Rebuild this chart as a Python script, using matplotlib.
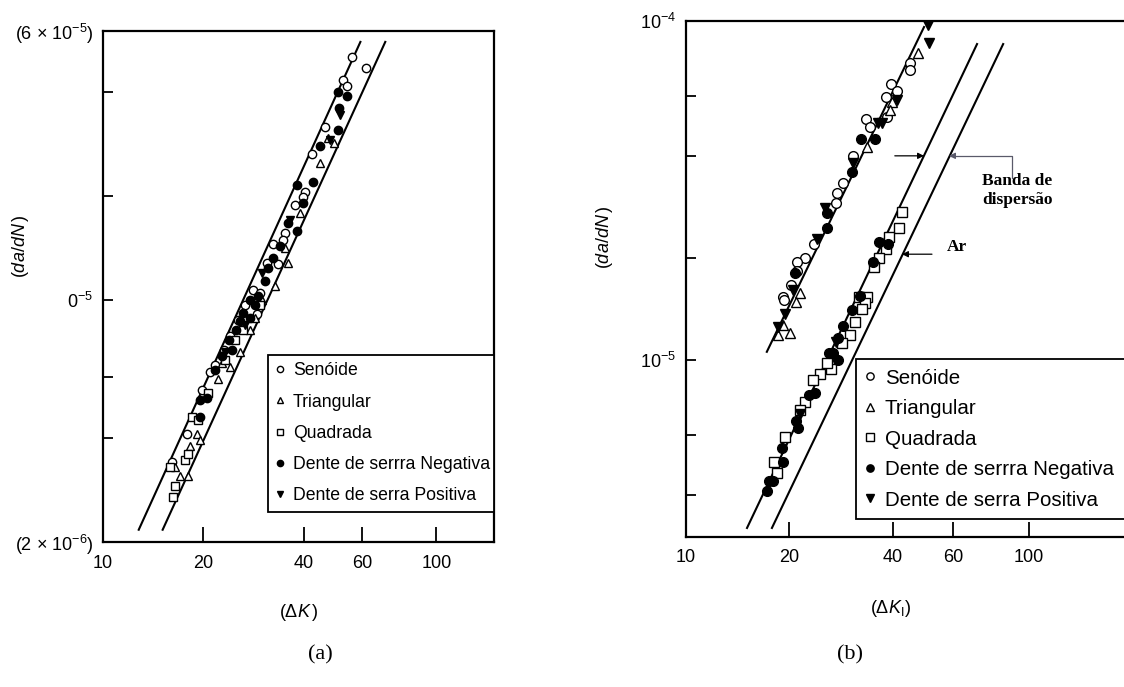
import matplotlib
matplotlib.use("Agg")
import matplotlib.pyplot as plt
from matplotlib.ticker import FixedLocator, NullLocator

plt.rcParams['font.family'] = ['Liberation Sans', 'DejaVu Sans']
plt.rcParams['mathtext.fontset'] = 'custom'
plt.rcParams['mathtext.rm'] = 'Liberation Sans'
plt.rcParams['mathtext.it'] = 'Liberation Sans:italic'
plt.rcParams['mathtext.bf'] = 'Liberation Sans:bold'

# ---------------- dados (a) ----------------
sen_a_K = [56, 61.5, 52.5, 54, 46.5, 42.5, 40.5, 39.8, 37.7, 35.2, 34.7, 32.3, 31.0,
           33.5, 28.2, 29.6, 26.7, 25.4, 24.1, 23.1, 21.7, 21.0, 17.9, 16.1, 19.8, 29.0]
sen_a_v = [5.05e-5, 4.7e-5, 4.33e-5, 4.15e-5, 3.17e-5, 2.65e-5, 2.05e-5, 1.99e-5, 1.89e-5,
           1.56e-5, 1.49e-5, 1.45e-5, 1.28e-5, 1.27e-5, 1.07e-5, 1.05e-5, 9.7e-6, 8.77e-6,
           7.9e-6, 7.2e-6, 6.5e-6, 6.2e-6, 4.1e-6, 3.4e-6, 5.5e-6, 9.1e-6]

tri_a_K = [47.3, 49.2, 44.9, 39.0, 35.8, 35.2, 32.8, 30.0, 28.5, 27.6, 25.8, 24.1,
           19.1, 19.6, 18.3, 18.0, 17.0, 16.4, 22.1, 22.8]
tri_a_v = [2.95e-5, 2.85e-5, 2.5e-5, 1.79e-5, 1.28e-5, 1.42e-5, 1.10e-5, 1.0e-5, 8.9e-6,
           8.2e-6, 7.1e-6, 6.4e-6, 4.1e-6, 3.95e-6, 3.8e-6, 3.1e-6, 3.1e-6, 3.3e-6,
           5.9e-6, 6.6e-6]

sq_a_K = [18.5, 19.3, 17.6, 18.0, 16.4, 16.2, 15.9, 20.7, 23.2, 26.3, 29.6, 24.9]
sq_a_v = [4.6e-6, 4.5e-6, 3.45e-6, 3.6e-6, 2.9e-6, 2.7e-6, 3.3e-6, 5.4e-6, 6.7e-6,
          8.2e-6, 9.7e-6, 7.67e-6]

neg_a_K = [50.8, 54.0, 51.2, 50.8, 44.8, 38.2, 42.7, 39.8, 35.8, 38.2, 34.0, 32.3, 30.6,
           29.2, 27.6, 26.3, 27.6, 25.0, 23.8, 24.4, 22.8, 21.7, 19.6, 20.5, 19.6, 31.3,
           25.8, 28.5]
neg_a_v = [4.0e-5, 3.9e-5, 3.6e-5, 3.1e-5, 2.8e-5, 2.15e-5, 2.2e-5, 1.91e-5, 1.67e-5,
           1.58e-5, 1.43e-5, 1.32e-5, 1.14e-5, 1.03e-5, 1.0e-5, 9.2e-6, 8.9e-6, 8.2e-6,
           7.67e-6, 7.2e-6, 6.9e-6, 6.3e-6, 5.14e-6, 5.2e-6, 4.6e-6, 1.24e-5, 8.7e-6, 9.7e-6]

pos_a_K = [51.5, 48.0, 36.4, 30.0, 26.7, 23.2]
pos_a_v = [3.44e-5, 2.9e-5, 1.70e-5, 1.2e-5, 8.5e-6, 7.1e-6]

# linhas da banda (a)
band_a1_K = [12.8, 59.2]
band_a2_K = [15.1, 70.3]
band_a_v = [2.17e-6, 5.58e-5]

# ---------------- dados (b) ----------------
sen_b_K = [45.0, 45.0, 39.6, 41.2, 38.2, 38.5, 33.5, 34.4, 30.7, 28.6, 27.5, 27.3, 23.6,
           22.2, 21.1, 21.1, 20.2, 19.2, 19.3]
sen_b_v = [7.5e-5, 7.17e-5, 6.5e-5, 6.2e-5, 5.96e-5, 5.2e-5, 5.15e-5, 4.87e-5, 4.0e-5,
           3.33e-5, 3.1e-5, 2.9e-5, 2.2e-5, 2.0e-5, 1.94e-5, 1.83e-5, 1.66e-5, 1.53e-5, 1.50e-5]

tri_b_K = [47.5, 39.9, 39.3, 33.7, 21.5, 20.9, 19.2, 20.1, 18.6]
tri_b_v = [8.05e-5, 5.77e-5, 5.46e-5, 4.25e-5, 1.57e-5, 1.48e-5, 1.27e-5, 1.2e-5, 1.18e-5]

sq_b_K = [42.6, 41.7, 39.0, 38.3, 36.6, 35.3, 33.7, 31.9, 33.2, 32.6, 31.1, 30.1, 28.5,
          26.5, 25.8, 24.6, 23.4, 22.2, 21.5, 19.4, 18.1, 18.4]
sq_b_v = [2.74e-5, 2.45e-5, 2.3e-5, 2.13e-5, 2.0e-5, 1.88e-5, 1.53e-5, 1.53e-5, 1.47e-5,
          1.41e-5, 1.29e-5, 1.18e-5, 1.12e-5, 9.4e-6, 9.8e-6, 9.1e-6, 8.7e-6, 7.5e-6,
          7.1e-6, 5.9e-6, 5.0e-6, 4.65e-6]

neg_b_K = [32.4, 35.5, 30.5, 25.8, 25.8, 20.8, 36.6, 38.7, 35.1, 32.2, 30.5, 28.6, 27.7,
           26.8, 27.7, 26.1, 23.8, 22.8, 20.9, 21.2, 19.0, 19.2, 17.9, 17.4, 17.2]
neg_b_v = [4.5e-5, 4.48e-5, 3.58e-5, 2.72e-5, 2.45e-5, 1.81e-5, 2.22e-5, 2.2e-5, 1.95e-5,
           1.54e-5, 1.40e-5, 1.26e-5, 1.16e-5, 1.05e-5, 1.0e-5, 1.05e-5, 8.0e-6, 7.9e-6,
           6.6e-6, 6.3e-6, 5.5e-6, 5.0e-6, 4.4e-6, 4.4e-6, 4.1e-6]

pos_b_K = [50.7, 51.1, 41.2, 36.2, 37.3, 30.7, 25.4, 24.1, 20.5, 19.4, 18.6, 21.5, 27.3]
pos_b_v = [9.7e-5, 8.6e-5, 5.85e-5, 5.0e-5, 5.0e-5, 3.81e-5, 2.8e-5, 2.28e-5, 1.61e-5,
           1.37e-5, 1.25e-5, 6.9e-6, 1.13e-5]

# linhas (b): ajuste dos dados e banda de dispersao em ar
line_b_K = [17.2, 49.4]
line_b_v = [1.056e-5, 9.6e-5]
band_b1_K = [15.06, 70.5]
band_b2_K = [17.8, 84.0]
band_b_v = [3.19e-6, 8.55e-5]

labels = ['Senóide', 'Triangular', 'Quadrada', 'Dente de serrra Negativa', 'Dente de serra Positiva']
xticks = [10, 20, 40, 60, 100]
xticklabels = ['10', '20', '40', '60', '100']


def draw_points(ax, ms, series):
    styles = [dict(marker='o', mfc='white'), dict(marker='^', mfc='white'),
              dict(marker='s', mfc='white'), dict(marker='o', mfc='black'),
              dict(marker='v', mfc='black')]
    for (K, v), st, lab in zip(series, styles, labels):
        ax.plot(K, v, ls='none', mec='black', mew=1.0, ms=ms, label=lab, **st)


def style_axes(ax, xlim, ylim, yticks, yticklabels):
    ax.set_xscale('log')
    ax.set_yscale('log')
    ax.set_xlim(*xlim)
    ax.set_ylim(*ylim)
    ax.xaxis.set_major_locator(FixedLocator(xticks))
    ax.xaxis.set_minor_locator(NullLocator())
    ax.set_xticklabels(xticklabels)
    ax.yaxis.set_major_locator(FixedLocator(yticks))
    ax.yaxis.set_minor_locator(NullLocator())
    ax.set_yticklabels(yticklabels)
    ax.tick_params(axis='x', direction='in', length=11, width=1.3, pad=9, labelsize=13)
    ax.tick_params(axis='y', direction='in', length=7, width=1.3, pad=7, labelsize=13)
    for s in ax.spines.values():
        s.set_linewidth(1.6)


def add_legend(ax, bbox, fs, spacing):
    leg = ax.legend(loc='lower left', bbox_to_anchor=bbox, mode='expand', borderaxespad=0,
                    fancybox=False, edgecolor='black', framealpha=1, handlelength=0.5,
                    handletextpad=0.45, labelspacing=spacing, borderpad=0.45,
                    markerscale=0.75, fontsize=fs)
    leg.get_frame().set_linewidth(1.3)
    return leg


fig = plt.figure(figsize=(11.24, 6.87), dpi=100)
W, H = 1124, 687
ax1 = fig.add_axes([103 / W, 1 - 542 / H, (494 - 103) / W, (542 - 31) / H])
ax2 = fig.add_axes([686 / W, 1 - 537 / H, (1124 - 686) / W, (537 - 21) / H])

# ---- (a) ----
ax1.plot(band_a1_K, band_a_v, color='black', lw=1.5)
ax1.plot(band_a2_K, band_a_v, color='black', lw=1.5)
draw_points(ax1, 6, [(sen_a_K, sen_a_v), (tri_a_K, tri_a_v), (sq_a_K, sq_a_v),
                     (neg_a_K, neg_a_v), (pos_a_K, pos_a_v)])
style_axes(ax1, (10, 149), (2e-6, 6e-5),
           [2e-6, 4e-6, 6e-6, 1e-5, 2e-5, 4e-5, 6e-5],
           ['(2 × 10$^{-6}$)', '', '', '0$^{-5}$', '', '', '(6 × 10$^{-5}$)'])
ax1.set_xlabel(r'$(\Delta \mathit{K}\,)$', fontsize=13)
ax1.xaxis.set_label_coords(0.5, -0.117)
ax1.set_ylabel(r'$(\mathit{da/dN}\,)$', fontsize=13)
ax1.yaxis.set_label_coords(-0.183, 0.579)
add_legend(ax1, (0.422, 0.059, 0.578, 0.3), 12.7, 0.8)

# ---- (b) ----
ax2.plot(line_b_K, line_b_v, color='black', lw=1.5)
ax2.plot(band_b1_K, band_b_v, color='black', lw=1.5)
ax2.plot(band_b2_K, band_b_v, color='black', lw=1.5)
draw_points(ax2, 7, [(sen_b_K, sen_b_v), (tri_b_K, tri_b_v), (sq_b_K, sq_b_v),
                     (neg_b_K, neg_b_v), (pos_b_K, pos_b_v)])
style_axes(ax2, (10, 189), (3e-6, 1e-4),
           [4e-6, 6e-6, 1e-5, 2e-5, 4e-5, 6e-5, 1e-4],
           ['', '', '10$^{-5}$', '', '', '', '10$^{-4}$'])
ax2.spines['right'].set_visible(False)
ax2.set_xlabel(r'$(\Delta \mathit{K}_\mathrm{I})$', fontsize=13)
ax2.xaxis.set_label_coords(0.466, -0.118)
ax2.set_ylabel(r'$(\mathit{da/dN}\,)$', fontsize=13)
ax2.yaxis.set_label_coords(-0.163, 0.581)
add_legend(ax2, (0.388, 0.035, 0.66, 0.3), 14.8, 0.56)

# anotacoes
ax2.annotate('', xy=(49.4, 4.0e-5), xytext=(40.6, 4.0e-5),
             arrowprops=dict(arrowstyle='-|>', color='black', lw=0.9, mutation_scale=9,
                             shrinkA=0, shrinkB=0))
ax2.annotate('', xy=(58.4, 4.0e-5), xytext=(89.0, 3.45e-5),
             arrowprops=dict(arrowstyle='-|>', color='#5a5a6a', lw=0.9, mutation_scale=9,
                             shrinkA=0, shrinkB=0,
                             connectionstyle='angle,angleA=90,angleB=0,rad=0'))
ax2.text(0.676, 0.705, 'Banda de\ndispersão', transform=ax2.transAxes, ha='left', va='top',
         multialignment='left', family='Liberation Serif', fontweight='bold',
         fontsize=12.5, linespacing=1.25)
ax2.annotate('', xy=(42.6, 2.05e-5), xytext=(52.1, 2.05e-5),
             arrowprops=dict(arrowstyle='-|>', color='black', lw=0.9, mutation_scale=9,
                             shrinkA=0, shrinkB=0))
ax2.text(0.595, 0.5625, 'Ar', transform=ax2.transAxes, ha='left', va='center',
         family='Liberation Serif', fontweight='bold', fontsize=12.5)

fig.text(320 / W, 1 - 655 / H, '(a)', ha='center', va='center',
         family='Liberation Serif', fontsize=16)
fig.text(850 / W, 1 - 655 / H, '(b)', ha='center', va='center',
         family='Liberation Serif', fontsize=16)

fig.savefig('out.png', dpi=100)
